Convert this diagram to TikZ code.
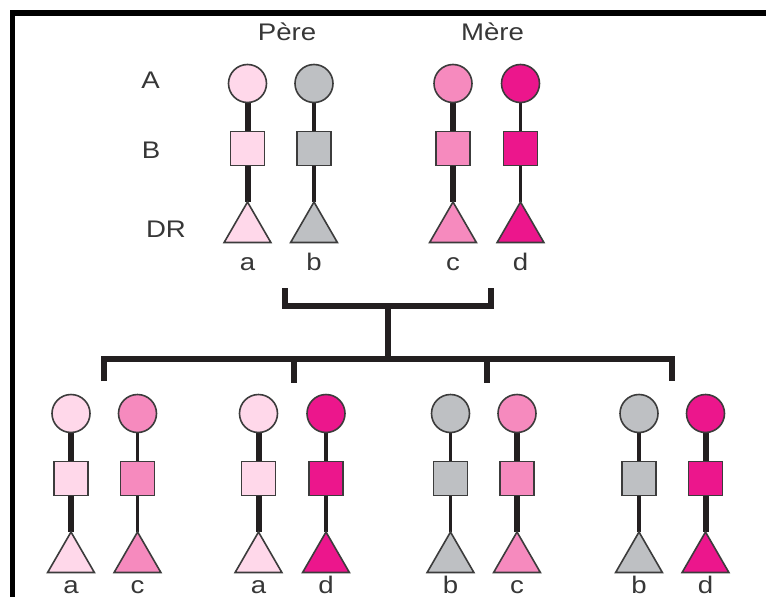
\documentclass[tikz,border=0pt]{standalone}
\usepackage{fontspec}
\setmainfont{Liberation Sans}
\newfontfamily\lblfont[FakeStretch=1.15]{Liberation Sans}
\usetikzlibrary{shapes.geometric}
\definecolor{lpink}{RGB}{255,216,234}
\definecolor{mpink}{RGB}{246,138,190}
\definecolor{hpink}{RGB}{236,22,140}
\definecolor{gry}{RGB}{190,192,195}
\definecolor{ink}{RGB}{35,31,32}
\definecolor{edgec}{RGB}{60,60,60}
\definecolor{txt}{RGB}{55,55,55}
\pgfdeclarelayer{back}
\pgfdeclarelayer{bg}
\pgfsetlayers{back,bg,main}
\tikzset{
 shp/.style={draw=edgec, line width=1.6pt, inner sep=0pt, outer sep=0pt},
 ball/.style={shp, circle, minimum size=38pt},
 sq/.style={shp, rectangle, minimum size=34pt},
 tri/.style={shp, regular polygon, regular polygon sides=3, minimum size=54pt},
 thickc/.style={draw=ink, line width=6pt},
 thinc/.style={draw=ink, line width=3.5pt},
 lbl/.style={text=txt, font=\lblfont\fontsize{24}{28}\selectfont, inner sep=0pt},
 brk/.style={draw=ink, line width=6pt},
}
\newcommand\chromo[6]{%
 \node[ball, fill=#4] (#1c) at (#2, 83.5+#3) {};
 \node[sq, fill=#4] (#1s) at (#2, 148.5+#3) {};
 \node[tri, fill=#4] (#1t) at (#2, 229+#3) {};
 \begin{pgfonlayer}{bg}
 \draw[#5] (#1c.south) -- (#1s.north);
 \draw[#5] (#1s.south) -- (#1t.corner 1);
 \end{pgfonlayer}
 \node[lbl, anchor=base] (#1l) at (#2, 270+0.98*#3) {#6};
}
\begin{document}
\begin{tikzpicture}[x=1pt,y=-1pt]
\useasboundingbox (0,0) rectangle (766,597);
\begin{pgfonlayer}{back}
\fill[white] (0,0) rectangle (766,597);
\end{pgfonlayer}
% frame
\fill[black] (10,10) rectangle (766,16);
\fill[black] (10,10) rectangle (15,597);
% titles and row labels
\node[lbl, anchor=base] (pere) at (287,40) {Père};
\node[lbl, anchor=base] (mere) at (492.5,40) {Mère};
\node[lbl, anchor=base] (rowA) at (150.5,88) {A};
\node[lbl, anchor=base] (rowB) at (151,158) {B};
\node[lbl, anchor=base] (rowDR) at (166,237) {DR};
% parents
\chromo{pa}{247.5}{0}{lpink}{thickc}{a}
\chromo{pb}{314}{0}{gry}{thinc}{b}
\chromo{mc}{453}{0}{mpink}{thickc}{c}
\chromo{md}{520.5}{0}{hpink}{thinc}{d}
% offspring
\chromo{ea}{71}{330}{lpink}{thickc}{a}
\chromo{ec}{137.5}{330}{mpink}{thinc}{c}
\chromo{fa}{258.5}{330}{lpink}{thickc}{a}
\chromo{fd}{326}{330}{hpink}{thinc}{d}
\chromo{gb}{450.5}{330}{gry}{thinc}{b}
\chromo{gc}{517}{330}{mpink}{thickc}{c}
\chromo{hb}{639}{330}{gry}{thinc}{b}
\chromo{hd}{705.5}{330}{hpink}{thickc}{d}
% brackets
\coordinate (tl) at (285,288);
\coordinate (tlc) at (285,306);
\coordinate (trc) at (491,306);
\coordinate (tr) at (491,288);
\coordinate (tm) at (387.5,306);
\coordinate (bm) at (387.5,359);
\coordinate (d1) at (103.7,381);
\coordinate (d1c) at (103.7,359);
\coordinate (d4c) at (672,359);
\coordinate (d4) at (672,381);
\coordinate (d2t) at (294,359);
\coordinate (d2) at (294,383);
\coordinate (d3t) at (486.5,359);
\coordinate (d3) at (486.5,383);
\draw[brk] (tl) -- (tlc) -- (trc) -- (tr);
\draw[brk] (tm) -- (bm);
\draw[brk] (d1) -- (d1c) -- (d4c) -- (d4);
\draw[brk] (d2t) -- (d2);
\draw[brk] (d3t) -- (d3);
\end{tikzpicture}
\end{document}
